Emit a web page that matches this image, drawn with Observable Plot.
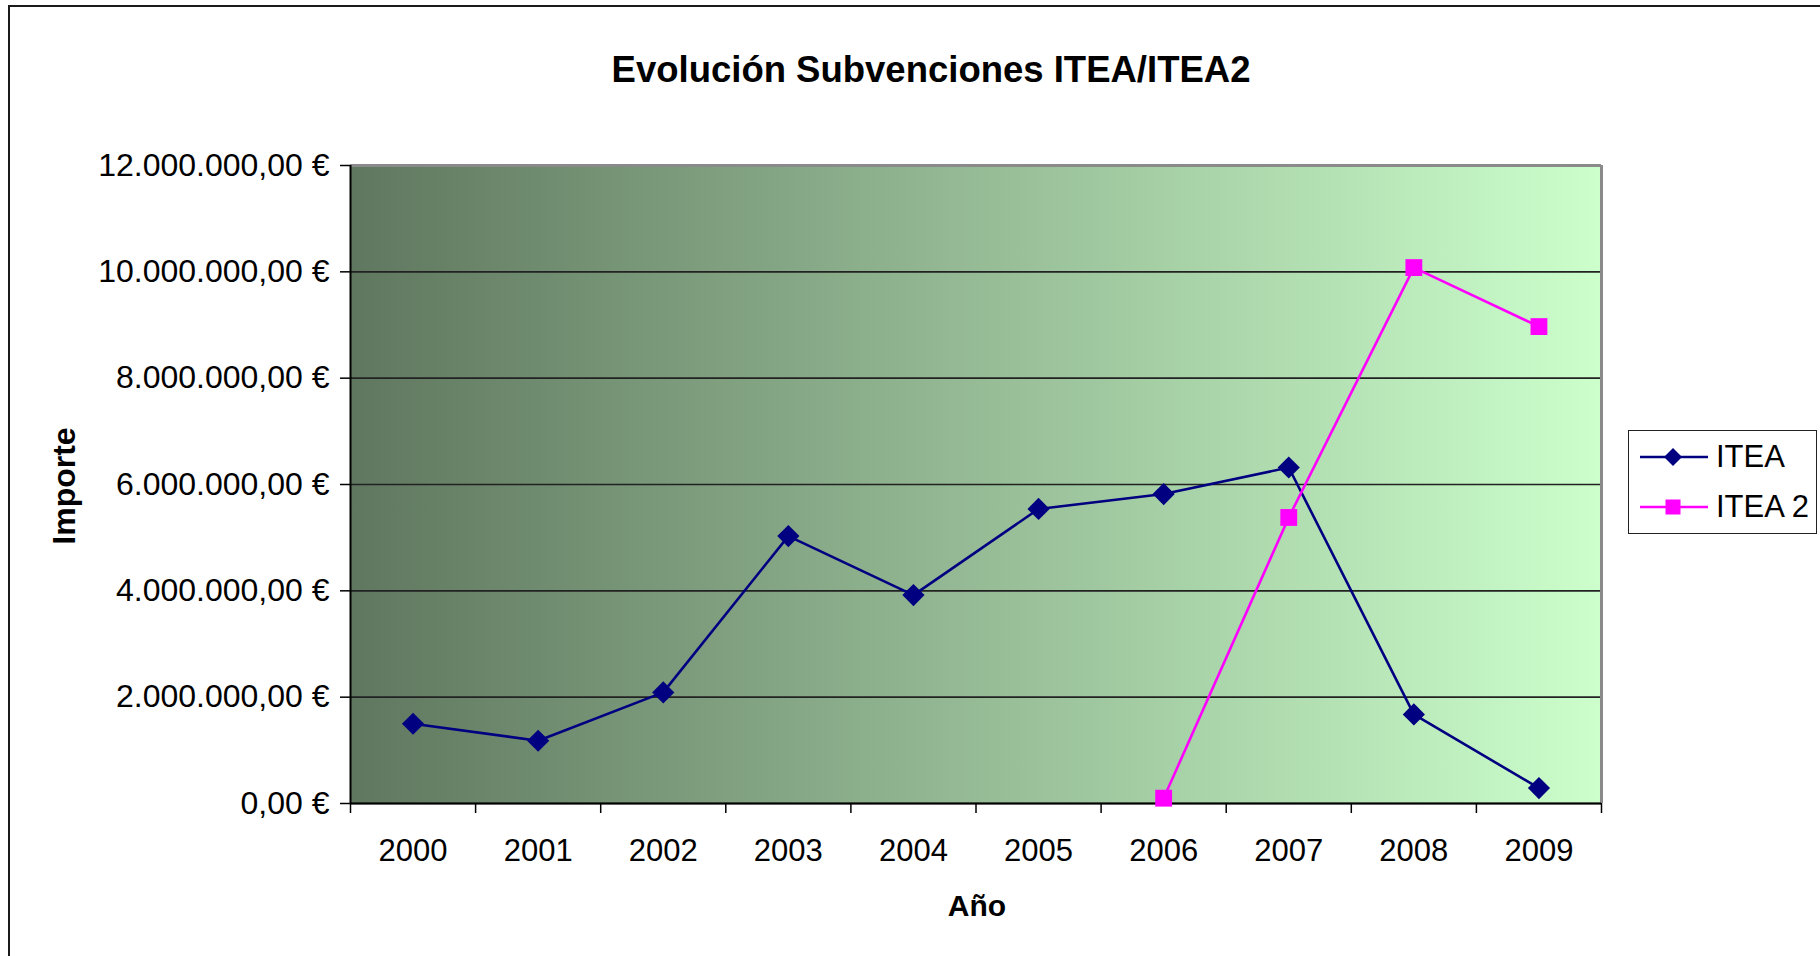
<!DOCTYPE html>
<html>
<head>
<meta charset="utf-8">
<script src="https://cdn.jsdelivr.net/npm/d3@7"></script>
<script src="https://cdn.jsdelivr.net/npm/@observablehq/plot@0.6"></script>
<style>
  html, body { margin: 0; padding: 0; background: #fff; }
  #wrap { position: relative; width: 1820px; height: 956px; overflow: hidden; font-family: "Liberation Sans", Arial, sans-serif; color: #000; }
  #frame { position: absolute; left: 8px; top: 5px; width: 1830px; height: 1000px; border-left: 2px solid #1a1a1a; border-top: 2px solid #1a1a1a; box-sizing: border-box; }
  .title { position: absolute; left: 931px; top: 70px; transform: translate(-50%, -50%); font-weight: bold; font-size: 36.5px; white-space: nowrap; }
  .xlabel { position: absolute; left: 977px; top: 906px; transform: translate(-50%, -50%); font-weight: bold; font-size: 30px; white-space: nowrap; }
  .ylabel { position: absolute; left: 64px; top: 486px; transform: translate(-50%, -50%) rotate(-90deg); font-weight: bold; font-size: 32px; white-space: nowrap; }
  #legend { position: absolute; left: 1628px; top: 430px; width: 189px; height: 104px; border: 1.5px solid #222; background: #fff; box-sizing: border-box; }
  .lrow { position: absolute; left: 10px; height: 40px; display: flex; align-items: center; font-size: 31px; white-space: nowrap; }
  .lrow svg { display: block; margin-right: 7px; }
  #chart { position: absolute; left: 0; top: 0; }
</style>
</head>
<body>
<div id="wrap">
  <div id="frame"></div>
  <div id="chart"></div>
  <div class="title">Evolución Subvenciones ITEA/ITEA2</div>
  <div class="xlabel">Año</div>
  <div class="ylabel">Importe</div>
  <div id="legend"></div>
</div>
<script>
// ---- data ----
const years = [2000, 2001, 2002, 2003, 2004, 2005, 2006, 2007, 2008, 2009];
const iteaValues = [1500000, 1180000, 2090000, 5030000, 3920000, 5540000, 5820000, 6320000, 1675000, 290000];
const itea2Years = [2006, 2007, 2008, 2009];
const itea2Values = [100000, 5380000, 10080000, 8970000];
const yTicks = [0, 2000000, 4000000, 6000000, 8000000, 10000000, 12000000];
const seriesNames = ["ITEA", "ITEA 2"];
const seriesColors = ["#000080", "#ff00ff"];

// ---- derived tables ----
const itea = years.map((y, i) => ({year: y, value: iteaValues[i]}));
const itea2 = itea2Years.map((y, i) => ({year: y, value: itea2Values[i]}));
const xMin = years[0] - 0.5;
const xMax = years[years.length - 1] + 0.5;
const boundaries = years.map(y => y - 0.5).concat([xMax]);

const es = d3.formatLocale({decimal: ",", thousands: ".", grouping: [3], currency: ["", " €"]});
const fmt = d => es.format(",.2f")(d) + " €";

const chart = Plot.plot({
  width: 1820,
  height: 956,
  marginLeft: 350,
  marginRight: 219,
  marginTop: 165,
  marginBottom: 153,
  style: {fontFamily: "'Liberation Sans', Arial, sans-serif", fontSize: "32px", color: "#000", background: "transparent", overflow: "visible"},
  x: {type: "linear", domain: [xMin, xMax]},
  y: {domain: [yTicks[0], yTicks[yTicks.length - 1]]},
  marks: [
    Plot.frame({fill: "url(#bgGrad)", stroke: "none"}),
    Plot.gridY(yTicks, {stroke: "#222", strokeOpacity: 1, strokeWidth: 1.6}),
    Plot.ruleY([yTicks[yTicks.length - 1]], {stroke: "#8a8a8a", strokeWidth: 3}),
    Plot.ruleX([xMax], {stroke: "#8a8a8a", strokeWidth: 3}),
    Plot.ruleX([xMin], {stroke: "#000", strokeWidth: 2}),
    Plot.ruleY([yTicks[0]], {stroke: "#000", strokeWidth: 2}),
    Plot.axisY({ticks: yTicks, tickFormat: fmt, tickSize: 10, tickPadding: 11, label: null, fontSize: 32, strokeWidth: 1.5}),
    Plot.axisX({ticks: boundaries, tickFormat: () => "", tickSize: 10, label: null, strokeWidth: 1.5}),
    Plot.axisX({ticks: years, tickFormat: d => String(d), tickSize: 0, tickPadding: 35, label: null, fontSize: 31}),
    Plot.line(itea, {x: "year", y: "value", stroke: seriesColors[0], strokeWidth: 2.6}),
    Plot.line(itea2, {x: "year", y: "value", stroke: seriesColors[1], strokeWidth: 2.6}),
    Plot.dot(itea, {x: "year", y: "value", symbol: "diamond2", r: 10, fill: seriesColors[0], stroke: "none"}),
    Plot.dot(itea2, {x: "year", y: "value", symbol: "square", r: 9.5, fill: seriesColors[1], stroke: "none"})
  ]
});

// gradient definition for plot background
const svgEl = chart.tagName.toLowerCase() === "svg" ? chart : chart.querySelector("svg");
const defs = d3.select(svgEl).insert("defs", ":first-child");
const grad = defs.append("linearGradient").attr("id", "bgGrad").attr("x1", "0").attr("y1", "0").attr("x2", "1").attr("y2", "0");
grad.append("stop").attr("offset", "0").attr("stop-color", "#5f775f");
grad.append("stop").attr("offset", "1").attr("stop-color", "#ccffcc");
document.getElementById("chart").appendChild(chart);

// legend
const legend = document.getElementById("legend");
const symbols = ["diamond", "square"];
seriesNames.forEach((name, i) => {
  const row = document.createElement("div");
  row.className = "lrow";
  row.style.top = (i === 0 ? 6 : 56) + "px";
  const ns = "http://www.w3.org/2000/svg";
  const s = document.createElementNS(ns, "svg");
  s.setAttribute("width", "70"); s.setAttribute("height", "22");
  const ln = document.createElementNS(ns, "line");
  ln.setAttribute("x1", "1"); ln.setAttribute("x2", "69"); ln.setAttribute("y1", "11"); ln.setAttribute("y2", "11");
  ln.setAttribute("stroke", seriesColors[i]); ln.setAttribute("stroke-width", "2.5");
  s.appendChild(ln);
  if (symbols[i] === "diamond") {
    const p = document.createElementNS(ns, "path");
    p.setAttribute("d", "M34,2 L43,11 L34,20 L25,11 Z");
    p.setAttribute("fill", seriesColors[i]);
    s.appendChild(p);
  } else {
    const r = document.createElementNS(ns, "rect");
    r.setAttribute("x", "26.5"); r.setAttribute("y", "3.5"); r.setAttribute("width", "15"); r.setAttribute("height", "15");
    r.setAttribute("fill", seriesColors[i]);
    s.appendChild(r);
  }
  row.appendChild(s);
  const t = document.createElement("span");
  t.textContent = name;
  row.appendChild(t);
  legend.appendChild(row);
});
</script>
</body>
</html>
